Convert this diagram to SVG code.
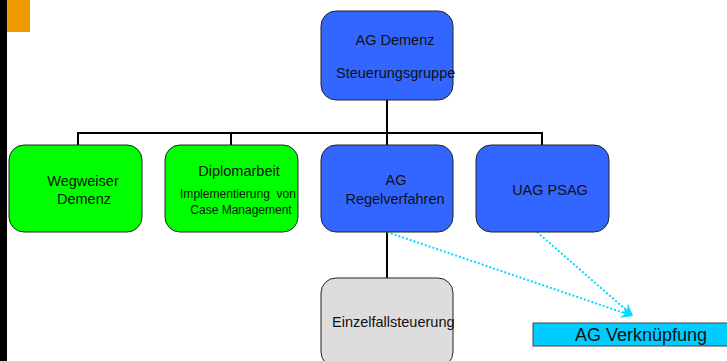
<svg xmlns="http://www.w3.org/2000/svg" width="727" height="361" viewBox="0 0 727 361">
<style>
.box{stroke:#222;stroke-width:1}
.blue{fill:#3366FF}
.green{fill:#00FF00}
.gray{fill:#DDDDDD}
.t{font-family:"Liberation Sans",Arial,sans-serif;font-size:14.5px;fill:#111}
.s{font-size:12px}
.tree{fill:none;stroke:#000;stroke-width:2}
.dot{fill:none;stroke:#00DDFF;stroke-width:2;stroke-dasharray:2 2}
</style>
<defs>
<marker id="ah" markerWidth="14" markerHeight="12" refX="12" refY="6" orient="auto" markerUnits="userSpaceOnUse">
<path d="M0,0 L12,6 L0,12 L4,6 Z" fill="#00DDFF"/>
</marker>
</defs>
<rect x="0" y="0" width="727" height="361" fill="#fff"/>
<rect x="0" y="0" width="7" height="361" fill="#000"/>
<rect x="7" y="0" width="23" height="32" fill="#EE9A00"/>
<g id="connectors">
<path class="tree" d="M387,100 V133 M78,146 V133 H542 V146 M231,133 V146 M387,133 V146 M387,232 V278"/>
<path class="dot" d="M387,232 L633,316" marker-end="url(#ah)"/>
<path class="dot" d="M537,232 L633,316" marker-end="url(#ah)"/>
</g>
<g id="ag-demenz">
<rect class="box blue" x="321" y="11" width="132" height="89" rx="15"/>
<text class="t" x="395" y="45" text-anchor="middle">AG Demenz</text>
<text class="t" x="336" y="78">Steuerungsgruppe</text>
</g>
<g id="wegweiser">
<rect class="box green" x="9" y="145" width="133" height="87" rx="15"/>
<text class="t" x="83" y="186" text-anchor="middle">Wegweiser</text>
<text class="t" x="84" y="204" text-anchor="middle">Demenz</text>
</g>
<g id="diplomarbeit">
<rect class="box green" x="165" y="145" width="133" height="87" rx="15"/>
<text class="t" x="239" y="176" text-anchor="middle">Diplomarbeit</text>
<text class="t s" x="180" y="198" textLength="116" xml:space="preserve">Implementierung  von</text>
<text class="t s" x="241" y="214" text-anchor="middle">Case Management</text>
</g>
<g id="ag-regelverfahren">
<rect class="box blue" x="321" y="145" width="132" height="87" rx="15"/>
<text class="t" x="396" y="185" text-anchor="middle">AG</text>
<text class="t" x="395" y="204" text-anchor="middle">Regelverfahren</text>
</g>
<g id="uag-psag">
<rect class="box blue" x="476" y="145" width="133" height="87" rx="15"/>
<text class="t" x="550" y="195" text-anchor="middle">UAG PSAG</text>
</g>
<g id="einzelfallsteuerung">
<rect class="box gray" x="321" y="278" width="132" height="89" rx="15"/>
<text class="t" x="332" y="327">Einzelfallsteuerung</text>
</g>
<g id="ag-verknuepfung">
<rect x="533" y="323" width="200" height="23" fill="#00CCFF" stroke="#444" stroke-width="1"/>
<text class="t" x="641" y="341" text-anchor="middle" style="font-size:18px">AG Verknüpfung</text>
</g>
</svg>
